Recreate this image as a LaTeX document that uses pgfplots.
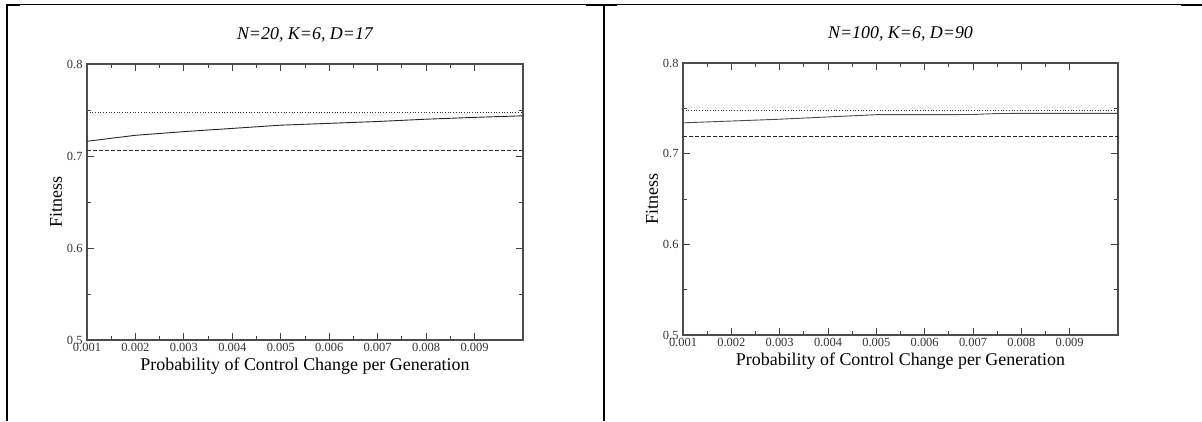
\documentclass[border=0pt]{standalone}
\usepackage{fontspec}
\setmainfont{Liberation Serif}
\usepackage{pgfplots}
\pgfplotsset{compat=1.18}
\pgfplotsset{
  fitaxis/.style={
    scale only axis,
    anchor=south west,
    xmin=0.001, xmax=0.010,
    ymin=0.5, ymax=0.8,
    xtick={0.001,0.002,0.003,0.004,0.005,0.006,0.007,0.008,0.009},
    xticklabels={0.001,0.002,0.003,0.004,0.005,0.006,0.007,0.008,0.009},
    ytick={0.5,0.6,0.7,0.8},
    yticklabels={0.5,0.6,0.7,0.8},
    minor x tick num=1,
    minor y tick num=1,
    scaled ticks=false,
    /pgf/number format/assume math mode=true,
    major tick length=7bp,
    minor tick length=4bp,
    axis line style={black!70, line width=1.1bp},
    every tick/.style={black!75, line width=0.9bp},
    tick label style={font=\fontsize{12.5}{13}\selectfont, text=black!80},
    xticklabel style={yshift=0bp},
    yticklabel style={xshift=-1bp},
    label style={font=\fontsize{18}{20}\selectfont},
    xlabel={Probability of Control Change per Generation},
    ylabel={Fitness},
    xlabel style={yshift=1bp},
    ylabel style={yshift=-2bp},
    title style={font=\itshape\fontsize{18}{20}\selectfont, yshift=12bp},
    clip=false,
  }
}
\begin{document}
\begin{tikzpicture}[x=1bp,y=1bp]
\path[use as bounding box] (0,0) rectangle (1202,421);
% frame lines
\draw[line width=1bp] (6,416.5) -- (1202,416.5);
\draw[line width=2bp] (7,416.5) -- (7,0);
\draw[line width=2bp] (603.5,416.5) -- (603.5,0);
\draw[line width=2bp] (6,416) -- (20,416);
\draw[line width=2bp] (586,416) -- (617,416);
\draw[line width=2bp] (1181,416) -- (1202,416);

\begin{axis}[fitaxis, at={(87bp,81bp)}, width=436bp, height=276bp,
  title={N=20, K=6, D=17}]
\addplot[black!85, line width=0.9bp] coordinates {
 (0.001,0.716) (0.002,0.7225) (0.003,0.7265) (0.004,0.7300) (0.005,0.7335)
 (0.006,0.7355) (0.007,0.7375) (0.008,0.7400) (0.009,0.7420) (0.010,0.7437)};
\addplot[black!80, line width=0.7bp, dotted] coordinates {
 (0.001,0.7473) (0.010,0.7473)};
\addplot[black!80, line width=0.9bp, dash pattern=on 4bp off 2bp] coordinates {
 (0.001,0.7058) (0.010,0.7058)};
\end{axis}

\begin{axis}[fitaxis, at={(683bp,86bp)}, width=435bp, height=272bp,
  title={N=100, K=6, D=90}]
\addplot[black!70, line width=0.9bp] coordinates {
 (0.001,0.7340) (0.002,0.7360) (0.003,0.7380) (0.004,0.7405) (0.005,0.7430)
 (0.006,0.7430) (0.007,0.7432) (0.0075,0.7443) (0.008,0.7444) (0.009,0.7444) (0.010,0.7444)};
\addplot[black!80, line width=0.7bp, dotted] coordinates {
 (0.001,0.7476) (0.010,0.7476)};
\addplot[black!85, line width=0.9bp, dash pattern=on 4bp off 2bp] coordinates {
 (0.001,0.7190) (0.010,0.7190)};
\end{axis}
\end{tikzpicture}
\end{document}
